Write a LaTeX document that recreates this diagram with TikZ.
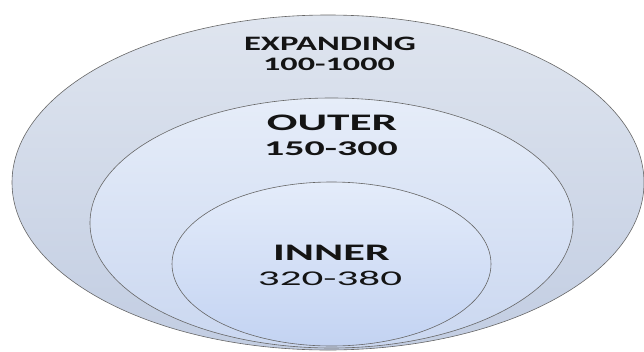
\documentclass[tikz,border=0pt]{standalone}
\usepackage{fontspec}
\setmainfont{Carlito}
\usetikzlibrary{shapes.geometric}
\usetikzlibrary{positioning}

\definecolor{ringedge}{HTML}{666666}
\definecolor{outertop}{HTML}{DFE5EF}
\definecolor{outerbot}{HTML}{C2CDE2}
\definecolor{midtop}{HTML}{E6EDF9}
\definecolor{midbot}{HTML}{CAD7F0}
\definecolor{innertop}{HTML}{E4ECFA}
\definecolor{innerbot}{HTML}{C3D3F2}

% stretch a label sideways
\newcommand{\ringtext}[2]{\scalebox{#1}[1]{#2}}

\tikzset{
  ring/.style={draw=ringedge,line width=0.6pt,ellipse,inner sep=0pt},
  ringlabel/.style={anchor=base,inner sep=0pt,text=black!92},
}

\begin{document}
\begin{tikzpicture}[x=1pt,y=-1pt]
\useasboundingbox (0,0) rectangle (644,351);
\node[ring,top color=outertop,bottom color=outerbot,minimum width=632pt,minimum height=335pt] (expanding)at(328,182.5) {};
\node[ring,top color=midtop,bottom color=midbot,minimum width=483pt,minimum height=250pt] (outer)at(331.5,223) {};
\node[ring,top color=innertop,bottom color=innerbot,minimum width=319pt,minimum height=164pt] (inner)at(331.5,264) {};

\node[ringlabel,font=\bfseries\fontsize{20.5}{24}\selectfont] (expandname)at(330,50) {\ringtext{1.69}{EXPANDING}};
\node[ringlabel,font=\bfseries\fontsize{19}{24}\selectfont] (expandrange)at(329,70) {\ringtext{1.8}{100-1000}};
\node[ringlabel,font=\bfseries\fontsize{23.7}{28}\selectfont] (outername)at(332,130) {\ringtext{1.91}{OUTER}};
\node[ringlabel,font=\bfseries\fontsize{21}{28}\selectfont] (outerrange)at(331,155) {\ringtext{1.9}{150-300}};
\node[ringlabel,font=\bfseries\fontsize{23.7}{28}\selectfont] (innername)at(331.5,260) {\ringtext{1.87}{INNER}};
\node[ringlabel,font=\fontsize{21}{28}\selectfont] (innerrange)at(330,285) {\ringtext{2.05}{320-380}};
\end{tikzpicture}
\end{document}
